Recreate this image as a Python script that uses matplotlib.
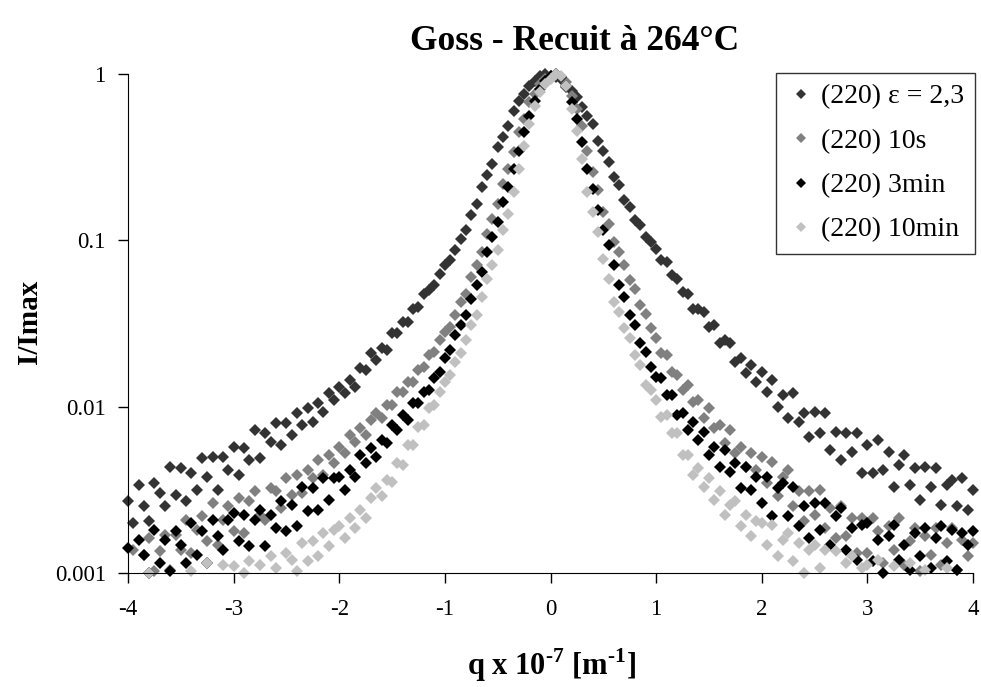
import numpy as np
import matplotlib
matplotlib.use("Agg")
import matplotlib.pyplot as plt
from matplotlib.ticker import FixedLocator, FixedFormatter, NullLocator

plt.rcParams['font.family'] = ['Liberation Serif', 'DejaVu Serif']
plt.rcParams['axes.unicode_minus'] = False
plt.rcParams['mathtext.fontset'] = 'custom'
plt.rcParams['mathtext.rm'] = 'Liberation Serif:bold'
plt.rcParams['mathtext.bf'] = 'Liberation Serif:bold'

# scan grid, q x 10^-7 [m^-1], one point every 0.05
q = np.linspace(-4, 4, 161)

# log10(I/Imax), 20 points per row (row k starts at q = -4 + k)
eps23_log = [
    -2.57, -2.70, -2.47, -2.60, -2.69, -2.46, -2.52, -2.60, -2.36, -2.53, -2.37, -2.57, -2.40, -2.50, -2.31, -2.42, -2.30, -2.50, -2.30, -2.38,
    -2.24, -2.41, -2.25, -2.32, -2.14, -2.31, -2.16, -2.21, -2.10, -2.23, -2.10, -2.17, -2.04, -2.11, -2.01, -2.09, -1.98, -2.03, -1.92, -1.96,
    -1.88, -1.92, -1.84, -1.88, -1.77, -1.78, -1.68, -1.72, -1.65, -1.66, -1.56, -1.56, -1.49, -1.49, -1.41, -1.40, -1.32, -1.30, -1.27, -1.20,
    -1.15, -1.12, -1.06, -0.99, -0.94, -0.85, -0.78, -0.68, -0.61, -0.54, -0.44, -0.38, -0.31, -0.22, -0.16, -0.12, -0.07, -0.04, -0.01, 0.00,
    -0.01, -0.02, -0.03, -0.08, -0.10, -0.14, -0.20, -0.25, -0.30, -0.40, -0.46, -0.53, -0.62, -0.67, -0.76, -0.80, -0.88, -0.91, -0.98, -1.01,
    -1.05, -1.12, -1.13, -1.21, -1.23, -1.31, -1.32, -1.41, -1.41, -1.43, -1.52, -1.51, -1.62, -1.60, -1.62, -1.73, -1.71, -1.80, -1.75, -1.85,
    -1.79, -1.91, -1.84, -2.00, -1.93, -2.07, -1.92, -2.09, -2.04, -2.18, -2.03, -2.16, -2.04, -2.26, -2.15, -2.32, -2.16, -2.27, -2.16, -2.40,
    -2.23, -2.40, -2.20, -2.38, -2.27, -2.48, -2.35, -2.29, -2.47, -2.37, -2.56, -2.36, -2.48, -2.37, -2.59, -2.47, -2.44, -2.60, -2.43, -2.62,
    -2.50,
]

s10_log = [
    -3.05, -2.86, -3.07, -2.89, -2.79, -2.99, -2.87, -2.77, -2.98, -2.77, -2.86, -2.68, -2.88, -2.74, -2.66, -2.81, -2.58, -2.83, -2.68, -2.60,
    -2.75, -2.55, -2.76, -2.57, -2.51, -2.65, -2.68, -2.49, -2.51, -2.61, -2.43, -2.53, -2.41, -2.52, -2.38, -2.43, -2.32, -2.41, -2.29, -2.34,
    -2.24, -2.28, -2.17, -2.21, -2.13, -2.17, -2.08, -2.04, -2.07, -1.99, -1.99, -1.91, -1.91, -1.85, -1.85, -1.78, -1.76, -1.69, -1.67, -1.60,
    -1.55, -1.52, -1.45, -1.37, -1.32, -1.22, -1.15, -1.07, -0.96, -0.87, -0.78, -0.66, -0.57, -0.47, -0.35, -0.27, -0.17, -0.12, -0.06, -0.03,
    -0.01, 0.00, -0.02, -0.05, -0.13, -0.21, -0.31, -0.46, -0.59, -0.70, -0.83, -0.90, -1.01, -1.07, -1.15, -1.24, -1.29, -1.39, -1.44, -1.53,
    -1.59, -1.68, -1.69, -1.79, -1.81, -1.90, -1.87, -1.97, -1.96, -2.07, -2.01, -2.13, -2.11, -2.22, -2.14, -2.28, -2.24, -2.36, -2.28, -2.38,
    -2.30, -2.46, -2.33, -2.54, -2.42, -2.38, -2.60, -2.51, -2.69, -2.51, -2.65, -2.50, -2.73, -2.61, -2.79, -2.60, -2.78, -2.67, -2.88, -2.67,
    -2.88, -2.67, -2.75, -2.94, -2.72, -2.86, -2.67, -2.95, -2.81, -2.73, -2.99, -2.78, -2.89, -2.73, -2.95, -2.82, -2.73, -2.98, -2.80, -2.90,
    -2.82,
]

min3_log = [
    -2.85, -3.02, -2.80, -2.89, -3.00, -2.74, -2.94, -2.80, -2.99, -2.75, -2.83, -2.94, -2.70, -2.89, -2.75, -2.94, -2.68, -2.78, -2.86, -2.68,
    -2.64, -2.81, -2.65, -2.84, -2.68, -2.62, -2.84, -2.65, -2.73, -2.57, -2.75, -2.59, -2.72, -2.48, -2.63, -2.49, -2.62, -2.43, -2.56, -2.43,
    -2.42, -2.50, -2.38, -2.42, -2.29, -2.34, -2.25, -2.30, -2.20, -2.22, -2.11, -2.14, -2.05, -2.08, -1.98, -1.98, -1.91, -1.90, -1.83, -1.79,
    -1.71, -1.66, -1.57, -1.51, -1.45, -1.35, -1.27, -1.19, -1.07, -0.98, -0.89, -0.77, -0.68, -0.57, -0.46, -0.35, -0.25, -0.16, -0.09, -0.04,
    -0.01, 0.00, -0.02, -0.07, -0.17, -0.27, -0.41, -0.57, -0.69, -0.82, -0.94, -1.03, -1.15, -1.27, -1.34, -1.45, -1.51, -1.62, -1.67, -1.76,
    -1.82, -1.83, -1.93, -1.93, -2.05, -2.04, -2.14, -2.09, -2.20, -2.15, -2.29, -2.24, -2.36, -2.26, -2.39, -2.34, -2.49, -2.36, -2.50, -2.42,
    -2.58, -2.42, -2.66, -2.49, -2.46, -2.66, -2.48, -2.72, -2.60, -2.79, -2.58, -2.74, -2.58, -2.83, -2.66, -2.61, -2.86, -2.73, -2.92, -2.71,
    -2.70, -2.93, -2.80, -3.00, -2.78, -2.71, -2.92, -2.83, -2.98, -2.76, -2.90, -2.73, -2.97, -2.79, -2.72, -2.93, -2.74, -2.98, -2.76, -2.83,
    -2.75,
]

min10_log = [
    -3.25, -3.08, -3.29, -3.10, -3.00, -3.24, -3.14, -3.01, -3.27, -3.05, -3.08, -3.23, -2.99, -3.16, -3.01, -2.94, -3.18, -3.04, -2.95, -3.13,
    -2.96, -3.11, -3.00, -2.93, -3.11, -2.95, -3.04, -2.90, -2.97, -3.04, -2.88, -2.92, -2.99, -2.82, -2.93, -2.81, -2.90, -2.76, -2.84, -2.74,
    -2.72, -2.79, -2.67, -2.73, -2.62, -2.67, -2.55, -2.49, -2.54, -2.44, -2.45, -2.34, -2.35, -2.23, -2.23, -2.12, -2.11, -2.01, -1.99, -1.91,
    -1.85, -1.81, -1.73, -1.68, -1.60, -1.51, -1.45, -1.34, -1.23, -1.15, -1.06, -0.94, -0.84, -0.71, -0.57, -0.43, -0.30, -0.19, -0.11, -0.06,
    -0.03, 0.00, -0.01, -0.07, -0.21, -0.34, -0.51, -0.71, -0.83, -0.95, -1.11, -1.23, -1.37, -1.43, -1.53, -1.59, -1.69, -1.75, -1.87, -1.90,
    -1.96, -2.06, -2.05, -2.16, -2.16, -2.29, -2.29, -2.41, -2.37, -2.48, -2.43, -2.56, -2.51, -2.65, -2.59, -2.57, -2.72, -2.65, -2.78, -2.69,
    -2.70, -2.83, -2.71, -2.90, -2.80, -2.76, -2.93, -2.82, -3.00, -2.86, -2.83, -2.97, -2.86, -3.03, -2.87, -3.04, -2.94, -2.90, -3.11, -2.97,
    -2.95, -3.11, -2.92, -3.15, -3.04, -2.96, -3.18, -3.03, -2.94, -3.17, -3.08, -2.98, -3.20, -3.04, -3.16, -2.97, -3.19, -3.03, -3.10, -3.23,
    -3.10,
]

labels = ['(220) \u03b5 = 2,3', '(220) 10s', '(220) 3min', '(220) 10min']
colors = ['#333333', '#808080', '#000000', '#c0c0c0']
series = [eps23_log, s10_log, min3_log, min10_log]

y_ticks = [0.001, 0.01, 0.1, 1]
y_ticklabels = ['0.001', '0.01', '0.1', '1']
x_ticks = [-4, -3, -2, -1, 0, 1, 2, 3, 4]
y_min, y_max = 1e-3, 1

fig = plt.figure(figsize=(9.81, 6.87), dpi=100)
ax = fig.add_axes([128/981, 1 - 573/687, 845/981, 499/687])

for vals, c, lab in zip(series, colors, labels):
    ratio = 10 ** np.array(vals)
    keep = (ratio >= y_min) & (ratio <= y_max)
    # like Excel: points outside the range are dropped, points inside drawn whole
    ax.plot(q[keep], ratio[keep], ls='none', marker='D', ms=6, mew=0,
            color=c, label=lab, clip_on=False)

ax.set_yscale('log')
ax.set_xlim(-4, 4)
ax.set_ylim(y_min, y_max)
ax.yaxis.set_major_locator(FixedLocator(y_ticks))
ax.yaxis.set_major_formatter(FixedFormatter(y_ticklabels))
ax.yaxis.set_minor_locator(NullLocator())
ax.set_xticks(x_ticks)
ax.set_xticklabels([str(v) for v in x_ticks])

for s in ['top', 'right']:
    ax.spines[s].set_visible(False)
ax.tick_params(direction='out', length=7, width=1, labelsize=16.5)
ax.tick_params(axis='x', pad=12)
ax.tick_params(axis='y', pad=9)

fig.text(575/981, 1 - 42/687, 'Goss - Recuit à 264°C', ha='center', va='center',
         fontsize=25.5, fontweight='bold')
fig.text(30/981, 1 - 322/687, 'I/Imax', ha='center', va='center', rotation=90,
         fontsize=21, fontweight='bold')
fig.text(551/981, 1 - 665/687, r'q x 10$^{\text{-}7}$ [m$^{\text{-}1}$]', ha='center', va='center',
         fontsize=22, fontweight='bold')

leg = ax.legend(loc='upper right', bbox_to_anchor=(975/981, 1 - 73/687),
                bbox_transform=fig.transFigure, borderaxespad=0, fontsize=20,
                markerscale=0.8, handlelength=0.95, handletextpad=0.25,
                labelspacing=0.68, borderpad=0.4, frameon=True, fancybox=False)
leg.get_frame().set_edgecolor('black')
leg.get_frame().set_linewidth(1)

fig.savefig('out.png', dpi=100)
